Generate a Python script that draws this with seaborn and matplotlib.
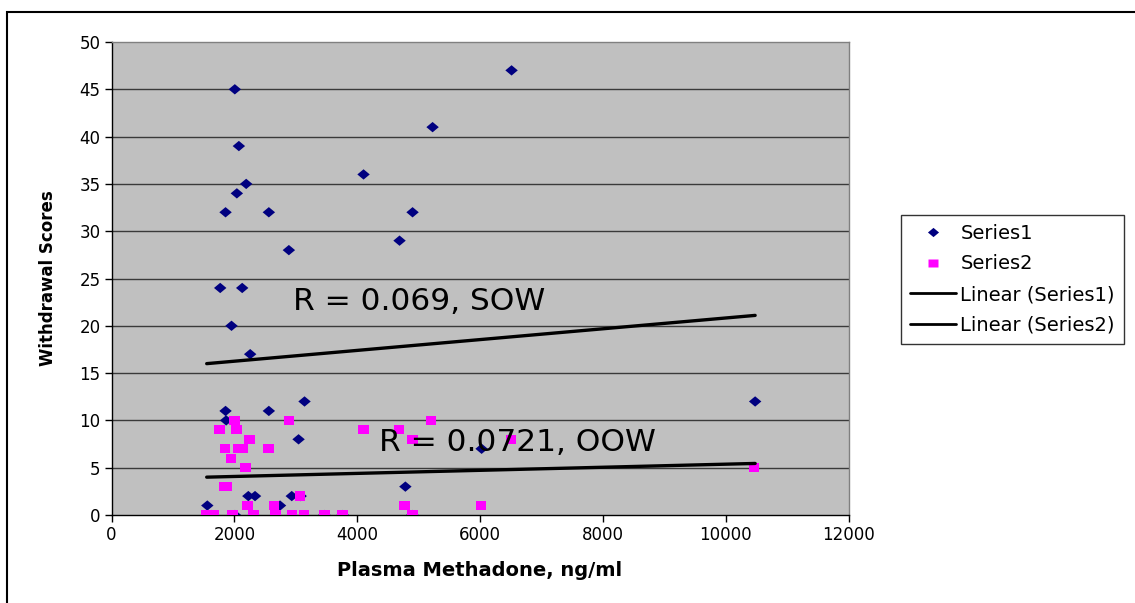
import matplotlib
matplotlib.use("Agg")
import matplotlib.pyplot as plt
from matplotlib.lines import Line2D
from matplotlib.patches import Rectangle
import seaborn as sns
import pandas as pd
import numpy as np

# ---- data ----
s1_x = [2008, 2074, 2193, 2041, 1857, 2562, 2888, 1770, 2128, 1954, 2258,
        1857, 2562, 3143, 3046, 1867, 6514, 5228, 4104, 4902, 4690, 4785,
        6026, 10480, 1560, 2228, 2337, 2935, 3080, 2744, 1630, 2010, 3466,
        3765, 4899]
s1_y = [45, 39, 35, 34, 32, 32, 28, 24, 24, 20, 17,
        11, 11, 12, 8, 10, 47, 41, 36, 32, 29, 3,
        7, 12, 1, 2, 2, 2, 2, 1, 0, 0, 0,
        0, 0]

s2_x = [2000, 2890, 5200, 1756, 2033, 4101, 4683, 2244, 4899, 6506, 1848,
        2065, 2137, 2554, 1946, 2186, 10464, 1840, 1880, 3070, 2210, 2647,
        4775, 6018, 1550, 1658, 1974, 2310, 2674, 2940, 3135, 3466, 3765,
        4899]
s2_y = [10, 10, 10, 9, 9, 9, 9, 8, 8, 8, 7,
        7, 7, 7, 6, 5, 5, 3, 3, 2, 1, 1,
        1, 1, 0, 0, 0, 0, 0, 0, 0, 0, 0,
        0]

# linear trendlines (as drawn in the reference)
trend_x = [1550, 10480]
trend1_y = [16.0, 21.1]
trend2_y = [4.0, 5.45]

annotations = ["R = 0.069, SOW", "R = 0.0721, OOW"]
annot_x = [2955, 4357]
annot_y = [22.6, 7.65]

x_ticks = [0, 2000, 4000, 6000, 8000, 10000, 12000]
y_ticks = [0, 5, 10, 15, 20, 25, 30, 35, 40, 45, 50]
legend_labels = ["Series1", "Series2", "Linear (Series1)", "Linear (Series2)"]

# ---- styling ----
sns.set_theme(style="white")
plt.rcParams['font.family'] = ['DejaVu Sans']
plt.rcParams['text.color'] = 'black'
plt.rcParams['axes.labelcolor'] = 'black'

W, H = 1135, 603
fig = plt.figure(figsize=(W / 100, H / 100), dpi=100)
fig.patch.set_facecolor("white")

left, right, top, bottom = 111.5, 848.5, 42, 515
ax = fig.add_axes([left / W, 1 - bottom / H, (right - left) / W, (bottom - top) / H])
ax.set_facecolor("#C0C0C0")

df1 = pd.DataFrame({"x": s1_x, "y": s1_y})
df2 = pd.DataFrame({"x": s2_x, "y": s2_y})
t1 = pd.DataFrame({"x": trend_x, "y": trend1_y})
t2 = pd.DataFrame({"x": trend_x, "y": trend2_y})

diamond = [(-1.2, 0), (0, 1), (1.2, 0), (0, -1)]
rect = [(-1, -0.87), (1, -0.87), (1, 0.87), (-1, 0.87)]

for yv in y_ticks[1:-1]:
    ax.axhline(yv, color="#3a3a3a", lw=1.0, zorder=1)

sns.scatterplot(data=df1, x="x", y="y", ax=ax, marker=diamond, s=80,
                color="#000080", edgecolor="none", linewidth=0, zorder=3)
sns.scatterplot(data=df2, x="x", y="y", ax=ax, marker=rect, s=58,
                color="#FF00FF", edgecolor="none", linewidth=0, zorder=4)
sns.lineplot(data=t1, x="x", y="y", ax=ax, color="black", lw=2.4, zorder=5)
sns.lineplot(data=t2, x="x", y="y", ax=ax, color="black", lw=2.4, zorder=5)

for txt, xx, yy in zip(annotations, annot_x, annot_y):
    ax.text(xx, yy, txt, fontsize=22.5, color="black", ha="left", va="center", zorder=6)

ax.set_xlim(0, 12000)
ax.set_ylim(0, 50)
ax.set_xticks(x_ticks)
ax.set_yticks(y_ticks)
ax.set_xticklabels([str(v) for v in x_ticks])
ax.set_yticklabels([str(v) for v in y_ticks])
ax.tick_params(axis="both", direction="out", length=5, width=1, colors="black",
               labelsize=12, pad=3, left=True, bottom=True)
ax.grid(False)

for side in ["top", "right"]:
    ax.spines[side].set_color("#808080")
    ax.spines[side].set_linewidth(1.0)
for side in ["left", "bottom"]:
    ax.spines[side].set_color("black")
    ax.spines[side].set_linewidth(1.0)

ax.set_xlabel("Plasma Methadone, ng/ml", fontsize=14, fontweight="bold",
              labelpad=12, color="black")
ax.set_ylabel("Withdrawal Scores", fontsize=12, fontweight="bold",
              labelpad=16, color="black")

# legend
handles = [
    Line2D([], [], marker=diamond, color="#000080", ls="none", markersize=8, mec="none"),
    Line2D([], [], marker=rect, color="#FF00FF", ls="none", markersize=7, mec="none"),
    Line2D([], [], color="black", lw=2),
    Line2D([], [], color="black", lw=2),
]
leg = fig.legend(handles, legend_labels, loc="upper left",
                 bbox_to_anchor=(901 / W, 1 - 215 / H), borderaxespad=0,
                 fontsize=14.0, frameon=True, fancybox=False, edgecolor="black",
                 handlelength=2.4, handletextpad=0.2, labelspacing=0.6,
                 borderpad=0.45, labelcolor="black")
leg.get_frame().set_linewidth(1.0)
leg.get_frame().set_facecolor("white")

# outer chart border
fig.add_artist(Rectangle((7 / W, -0.05), 1.2, 1 - 12 / H + 0.05,
                         transform=fig.transFigure, fill=False,
                         edgecolor="black", lw=1.5))

fig.savefig("out.png", dpi=100, facecolor="white")
